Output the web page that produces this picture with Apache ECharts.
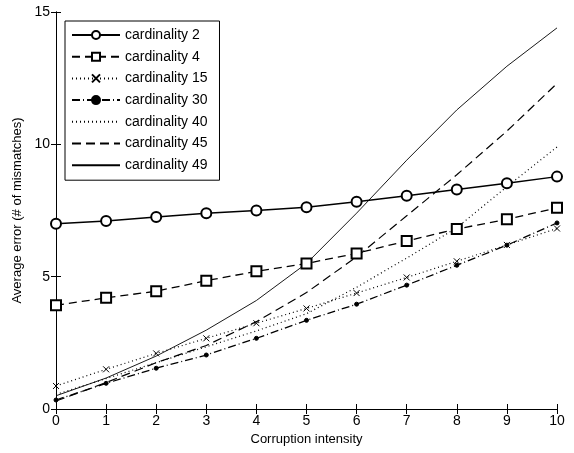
<!DOCTYPE html>
<html><head><meta charset="utf-8">
<script src="https://cdn.jsdelivr.net/npm/echarts@6/dist/echarts.min.js"></script>
<style>html,body{margin:0;padding:0;background:#fff}#c{width:574px;height:453px}</style>
</head><body><div id="c"></div>
<script>
var xValues = [0,1,2,3,4,5,6,7,8,9,10];
var seriesNames = ['cardinality 2','cardinality 4','cardinality 15','cardinality 30','cardinality 40','cardinality 45','cardinality 49'];
var card2  = [7.0, 7.1, 7.25, 7.4, 7.5, 7.62, 7.83, 8.06, 8.29, 8.53, 8.78];
var card4  = [3.92, 4.2, 4.45, 4.85, 5.2, 5.5, 5.88, 6.35, 6.8, 7.17, 7.6];
var card15 = [0.87, 1.5, 2.1, 2.67, 3.24, 3.8, 4.38, 4.97, 5.58, 6.2, 6.82];
var card30 = [0.34, 0.97, 1.54, 2.04, 2.67, 3.35, 3.96, 4.68, 5.43, 6.19, 7.03];
var card40 = [0.55, 1.15, 1.75, 2.35, 2.95, 3.6, 4.6, 5.7, 6.85, 8.4, 9.9];
var card45 = [0.3, 1.0, 1.75, 2.4, 3.3, 4.4, 5.75, 7.3, 8.85, 10.5, 12.3];
var card49 = [0.5, 1.17, 2.0, 2.98, 4.1, 5.5, 7.4, 9.4, 11.3, 12.95, 14.4];
var xTicks = [0,1,2,3,4,5,6,7,8,9,10];
var yTicks = [0,5,10,15];

function pairs(arr){ return xValues.map(function(x,i){ return [x, arr[i]]; }); }
var xMark = 'path://M0,0L10,10M10,0L0,10';
var font = 'Liberation Sans, Arial, sans-serif';
function mk(name, data, lineType, width, symbol, size){
  return {
    name: name, type: 'line', data: pairs(data), smooth: false,
    symbol: symbol, symbolSize: size, showSymbol: symbol !== 'none',
    lineStyle: { color: '#000', width: width, type: lineType },
    itemStyle: { color: '#000', borderColor: '#000', borderWidth: 1 },
    emphasis: { disabled: true }, animation: false, z: 3
  };
}
var noMarker = { opacity: 0 };
var chart = echarts.init(document.getElementById('c'), null, {renderer: 'canvas'});
var axisCommon = {
  type: 'value',
  axisLine: { show: true, lineStyle: { color: '#000', width: 1 } },
  axisTick: { show: true, inside: true, length: 5, lineStyle: { color: '#000' } },
  splitLine: { show: false }
};
chart.setOption({
  animation: false,
  backgroundColor: '#fff',
  grid: { left: 56, right: 17, top: 12, bottom: 44 },
  legend: {
    left: 65, top: 21, orient: 'vertical',
    data: [
      { name: seriesNames[0] },
      { name: seriesNames[1] },
      { name: seriesNames[2] },
      { name: seriesNames[3] },
      { name: seriesNames[4], itemStyle: noMarker },
      { name: seriesNames[5], itemStyle: noMarker },
      { name: seriesNames[6], itemStyle: noMarker }
    ],
    itemWidth: 48, itemHeight: 10, itemGap: 7.7,
    padding: [7, 12, 8, 6],
    backgroundColor: '#fff', borderColor: '#000', borderWidth: 1,
    textStyle: { color: '#000', fontSize: 14, fontFamily: font },
    selectedMode: false
  },
  xAxis: [
    Object.assign({}, axisCommon, {
      min: 0, max: 10, interval: 1, position: 'bottom',
      name: 'Corruption intensity', nameLocation: 'middle', nameGap: 23,
      nameTextStyle: { color: '#000', fontSize: 13, fontFamily: font },
      axisLabel: { color: '#000', fontSize: 14, fontFamily: font, margin: 5 }
    }),
    Object.assign({}, axisCommon, {
      min: 0, max: 10, interval: 1, position: 'top', axisLabel: { show: false }
    })
  ],
  yAxis: [
    Object.assign({}, axisCommon, {
      min: 0, max: 15, interval: 5, position: 'left',
      name: 'Average error (# of mismatches)', nameLocation: 'middle', nameGap: 31,
      nameTextStyle: { color: '#000', fontSize: 13, fontFamily: font },
      axisLabel: { color: '#000', fontSize: 14, fontFamily: font, margin: 6 }
    }),
    Object.assign({}, axisCommon, {
      min: 0, max: 15, interval: 5, position: 'right', axisLabel: { show: false }
    })
  ],
  series: [
    mk(seriesNames[0], card2, 'solid', 1.5, 'emptyCircle', 10),
    mk(seriesNames[1], card4, [8,5], 1.3, 'emptyRect', 10),
    mk(seriesNames[2], card15, [1,3], 1.2, xMark, 6),
    mk(seriesNames[3], card30, [8,3,1,3], 1.3, 'circle', 4),
    mk(seriesNames[4], card40, [1,3], 1.2, 'none', 0),
    mk(seriesNames[5], card45, [9,5], 1.2, 'none', 0),
    mk(seriesNames[6], card49, 'solid', 0.9, 'none', 0)
  ]
});
</script></body></html>
